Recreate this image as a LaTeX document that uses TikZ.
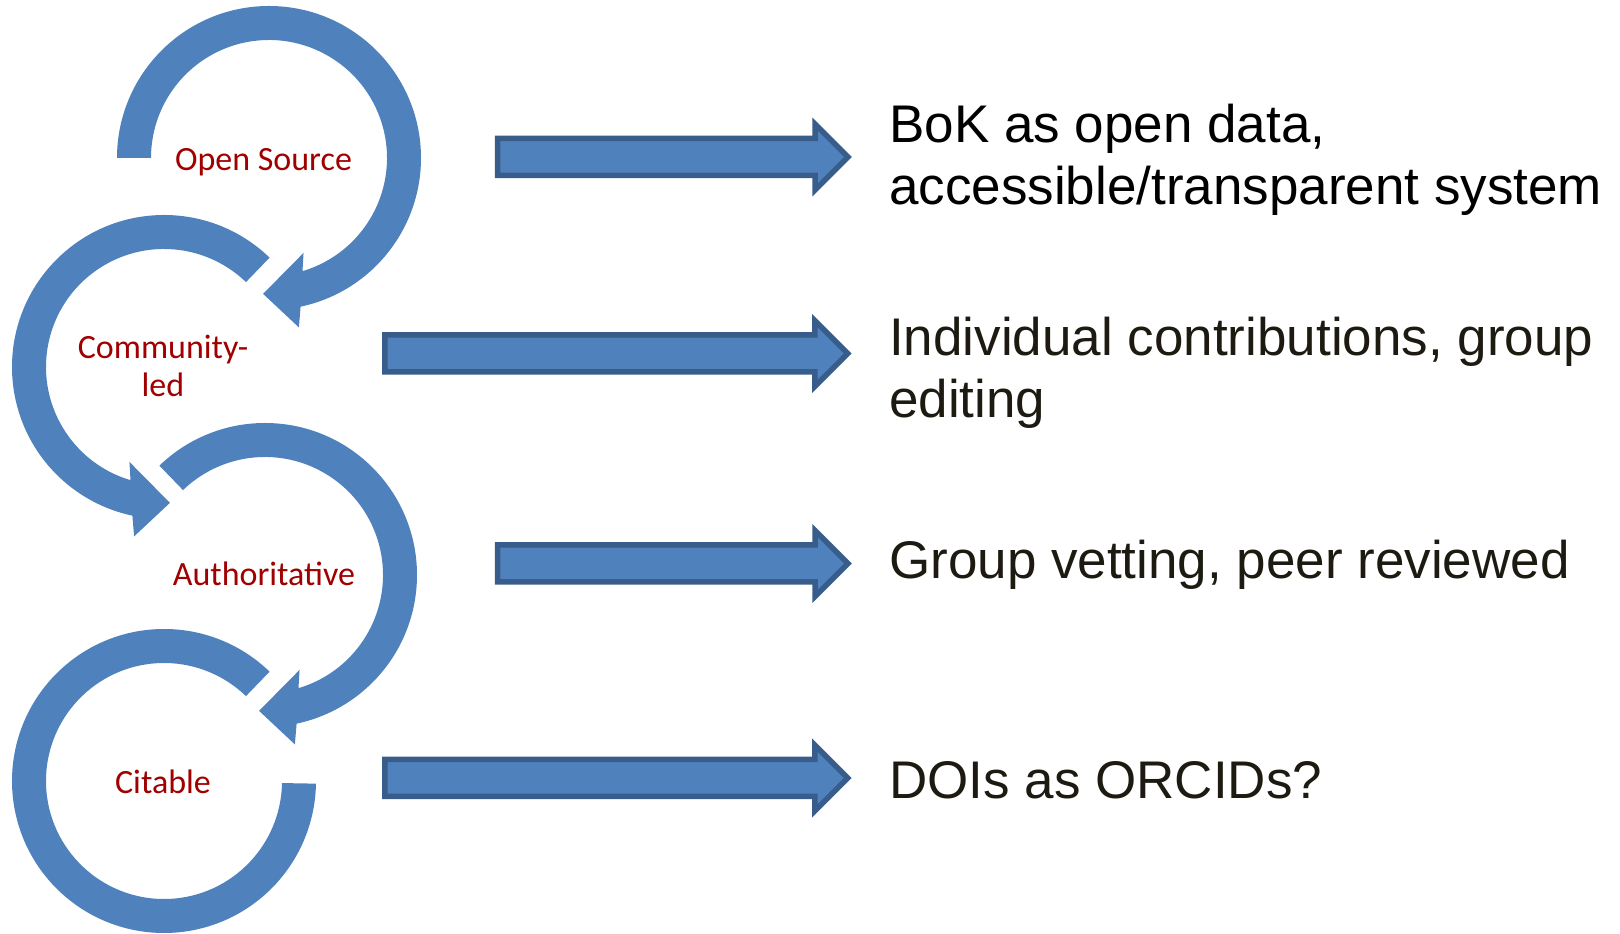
\documentclass[tikz,border=0pt]{standalone}
\usepackage{fontspec}
\usepackage{tikz}
\usetikzlibrary{shapes.arrows}
\newfontfamily\arialfont{Liberation Sans}
\newfontfamily\calibrifont{Carlito}
\definecolor{ringblue}{RGB}{79,129,189}
\definecolor{arrowedge}{RGB}{56,93,138}
\definecolor{labelred}{RGB}{160,0,0}
\definecolor{inkdark}{RGB}{29,27,17}
\tikzset{
    ring/.style={
        fill=ringblue
    },
    lbl/.style={
        font=\fontsize{34}{38}\selectfont\calibrifont,
        text=labelred,
        align=center,
        inner sep=0pt,
        anchor=base
    },
    fatarrow/.style={
        single arrow,
        draw=arrowedge,
        fill=ringblue,
        line width=5.5pt,
        outer sep=0pt,
        inner xsep=0pt,
        inner ysep=15.75pt,
        single arrow head extend=14.5pt,
        single arrow tip angle=90,
        anchor=tail
    },
    note/.style={
        font=\fontsize{53}{62}\selectfont\arialfont,
        text=inkdark,
        align=left,
        inner sep=0pt,
        anchor=base west % last baseline sits on the coordinate
    }
}

\begin{document}
\begin{tikzpicture}[x=1pt, y=1pt]
    \useasboundingbox (0,0) rectangle (1620,934);

    % circular arrows
    \begin{scope}[shift={(269,776)}]
        \fill[ring] (180:152) arc[start angle=180, end angle=-78, radius=152]
            -- (-80:172) -- (-92.5:136) -- (-70:101) -- (-73.5:118)
            arc[start angle=-73.5, end angle=180, radius=118] -- cycle;
    \end{scope}
    \begin{scope}[shift={(164,567)}]
        \fill[ring] (46:152) arc[start angle=46, end angle=258, radius=152]
            -- (260:172) -- (272.5:136) -- (250:101) -- (253.5:118)
            arc[start angle=253.5, end angle=46, radius=118] -- cycle;
    \end{scope}
    \begin{scope}[shift={(265,359)}]
        \fill[ring] (134:152) arc[start angle=134, end angle=-78, radius=152]
            -- (-80:172) -- (-92.5:136) -- (-70:101) -- (-73.5:118)
            arc[start angle=-73.5, end angle=134, radius=118] -- cycle;
    \end{scope}
    \begin{scope}[shift={(164,153)}]
        \fill[ring] (46:152) arc[start angle=46, end angle=359, radius=152]
            -- (359:118) arc[start angle=359, end angle=46, radius=118] -- cycle;
    \end{scope}

    \node (open) [lbl] at (263.5,763) {Open Source};
    \node (community) [lbl] at (163,537) {Community-\\led};
    \node (authority) [lbl] at (264,348) {Authoritative};
    \node (citable) [lbl] at (163,140) {Citable};

    % block arrows
    \node (arrOne) [fatarrow, minimum height=350.5pt] at (497.5,777) {};
    \node (arrTwo) [fatarrow, minimum height=463pt] at (384.75,580.5) {};
    \node (arrThree) [fatarrow, minimum height=350.5pt] at (497.5,370.5) {};
    \node (arrFour) [fatarrow, minimum height=463pt] at (384.75,156) {};

    \node (bok) [note, text=black] at (889,729) {BoK as open data,\\accessible/transparent system};
    \node (contrib) [note] at (889,516) {Individual contributions, group\\editing};
    \node (vetting) [note] at (889,355) {Group vetting, peer reviewed};
    \node (dois) [note] at (889,135) {DOIs as ORCIDs?};
\end{tikzpicture}
\end{document}
